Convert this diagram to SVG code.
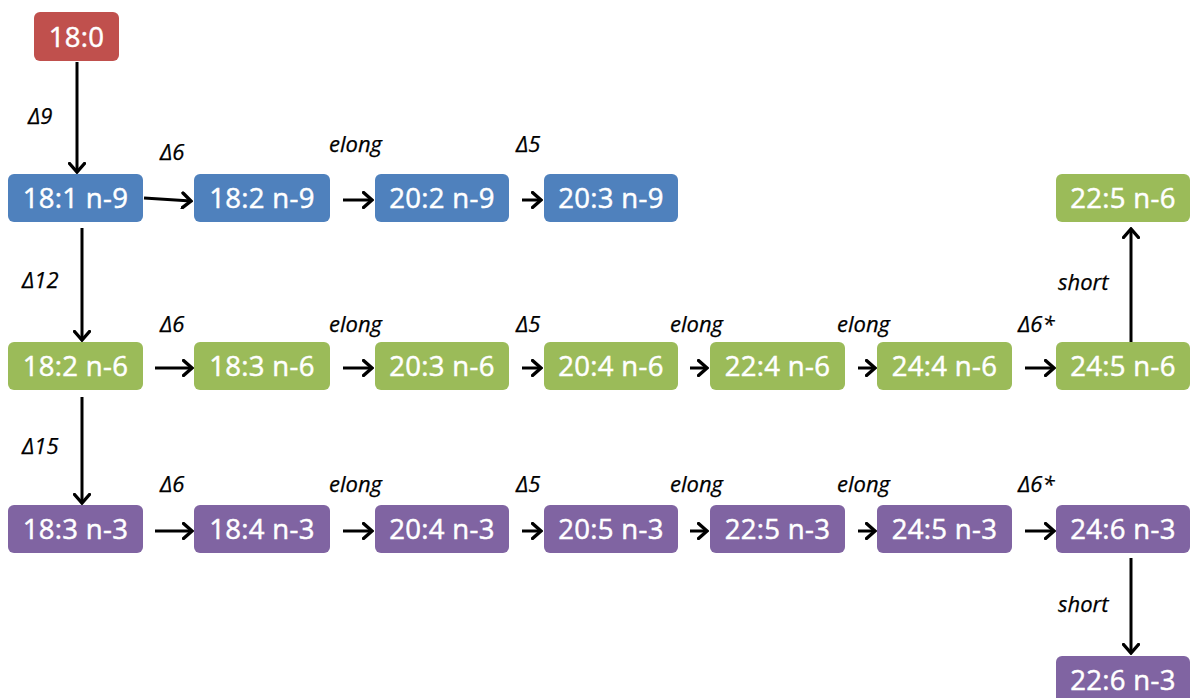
<svg xmlns="http://www.w3.org/2000/svg" width="1190" height="698" viewBox="0 0 1190 698">
<defs>
<style>
.n rect{rx:6;ry:6}
.red rect{fill:#C0504D}
.blue rect{fill:#4F81BD}
.green rect{fill:#9BBB59}
.purple rect{fill:#8064A2}
.n text{fill:#fff;stroke:#fff;stroke-width:0.5px;font-family:"Open Sans","DejaVu Sans",sans-serif;font-size:27.5px;font-weight:400;letter-spacing:0.3px;text-anchor:middle}
.lbl{font-family:"Open Sans","DejaVu Sans",sans-serif;font-size:22px;font-style:italic;fill:#000;stroke:#000;stroke-width:0.25px}
.c path{stroke:#000;stroke-width:3;fill:none;marker-end:url(#ah)}
</style>
<marker id="ah" markerUnits="userSpaceOnUse" viewBox="0 0 12 18" refX="10" refY="9" markerWidth="12" markerHeight="18" orient="auto">
<path d="M1.5,1.5 L10,9 L1.5,16.5" fill="none" stroke="#000" stroke-width="3.4" stroke-linecap="round" stroke-linejoin="miter"/>
</marker>
</defs>
<rect width="1190" height="698" fill="#fff"/>
<g class="c">
<path d="M77,62 L77,172"/>
<path d="M144,198 L191,201"/>
<path d="M343,200 L372,200"/>
<path d="M522,200 L541,200"/>
<path d="M82,228 L82,340"/>
<path d="M82,397 L82,503"/>
<path d="M155,368 L192,368"/>
<path d="M343,368 L372,368"/>
<path d="M522,368 L541,368"/>
<path d="M690,368 L707,368"/>
<path d="M858,368 L875,368"/>
<path d="M1025,368 L1054,368"/>
<path d="M155,531 L192,531"/>
<path d="M343,531 L372,531"/>
<path d="M522,531 L541,531"/>
<path d="M690,531 L707,531"/>
<path d="M858,531 L875,531"/>
<path d="M1025,531 L1054,531"/>
<path d="M1131,342 L1131,229"/>
<path d="M1131,558 L1131,653"/>
</g>
<g id="n0" class="n red"><rect x="34" y="12" width="85" height="49"/><text x="76.5" y="47">18:0</text></g>
<g id="n1" class="n blue"><rect x="8" y="174" width="135" height="48"/><text x="75.5" y="208">18:1 n-9</text></g>
<g id="n2" class="n blue"><rect x="194" y="174" width="136" height="48"/><text x="262" y="208">18:2 n-9</text></g>
<g id="n3" class="n blue"><rect x="375" y="174" width="134" height="48"/><text x="442" y="208">20:2 n-9</text></g>
<g id="n4" class="n blue"><rect x="544" y="174" width="134" height="48"/><text x="611" y="208">20:3 n-9</text></g>
<g id="n5" class="n green"><rect x="1056" y="174" width="134" height="48"/><text x="1123" y="208">22:5 n-6</text></g>
<g id="n6" class="n green"><rect x="8" y="342" width="135" height="48"/><text x="75.5" y="376">18:2 n-6</text></g>
<g id="n7" class="n green"><rect x="194" y="342" width="136" height="48"/><text x="262" y="376">18:3 n-6</text></g>
<g id="n8" class="n green"><rect x="375" y="342" width="134" height="48"/><text x="442" y="376">20:3 n-6</text></g>
<g id="n9" class="n green"><rect x="544" y="342" width="134" height="48"/><text x="611" y="376">20:4 n-6</text></g>
<g id="n10" class="n green"><rect x="710" y="342" width="135" height="48"/><text x="777.5" y="376">22:4 n-6</text></g>
<g id="n11" class="n green"><rect x="877" y="342" width="135" height="48"/><text x="944.5" y="376">24:4 n-6</text></g>
<g id="n12" class="n green"><rect x="1056" y="342" width="134" height="48"/><text x="1123" y="376">24:5 n-6</text></g>
<g id="n13" class="n purple"><rect x="8" y="505" width="135" height="48"/><text x="75.5" y="539">18:3 n-3</text></g>
<g id="n14" class="n purple"><rect x="194" y="505" width="136" height="48"/><text x="262" y="539">18:4 n-3</text></g>
<g id="n15" class="n purple"><rect x="375" y="505" width="134" height="48"/><text x="442" y="539">20:4 n-3</text></g>
<g id="n16" class="n purple"><rect x="544" y="505" width="134" height="48"/><text x="611" y="539">20:5 n-3</text></g>
<g id="n17" class="n purple"><rect x="710" y="505" width="135" height="48"/><text x="777.5" y="539">22:5 n-3</text></g>
<g id="n18" class="n purple"><rect x="877" y="505" width="135" height="48"/><text x="944.5" y="539">24:5 n-3</text></g>
<g id="n19" class="n purple"><rect x="1056" y="505" width="134" height="48"/><text x="1123" y="539">24:6 n-3</text></g>
<g id="n20" class="n purple"><rect x="1056" y="656" width="134" height="48"/><text x="1123" y="690">22:6 n-3</text></g>
<g id="labels">
<text class="lbl" x="28" y="124">Δ9</text>
<text class="lbl" x="160" y="160">Δ6</text>
<text class="lbl" x="329" y="152">elong</text>
<text class="lbl" x="516" y="152">Δ5</text>
<text class="lbl" x="22" y="288">Δ12</text>
<text class="lbl" x="160" y="332">Δ6</text>
<text class="lbl" x="329" y="332">elong</text>
<text class="lbl" x="516" y="332">Δ5</text>
<text class="lbl" x="670" y="332">elong</text>
<text class="lbl" x="837" y="332">elong</text>
<text class="lbl" x="1018" y="332">Δ6*</text>
<text class="lbl" x="1058" y="290">short</text>
<text class="lbl" x="22" y="454">Δ15</text>
<text class="lbl" x="160" y="492">Δ6</text>
<text class="lbl" x="329" y="492">elong</text>
<text class="lbl" x="516" y="492">Δ5</text>
<text class="lbl" x="670" y="492">elong</text>
<text class="lbl" x="837" y="492">elong</text>
<text class="lbl" x="1018" y="492">Δ6*</text>
<text class="lbl" x="1058" y="612">short</text>
</g>
</svg>
